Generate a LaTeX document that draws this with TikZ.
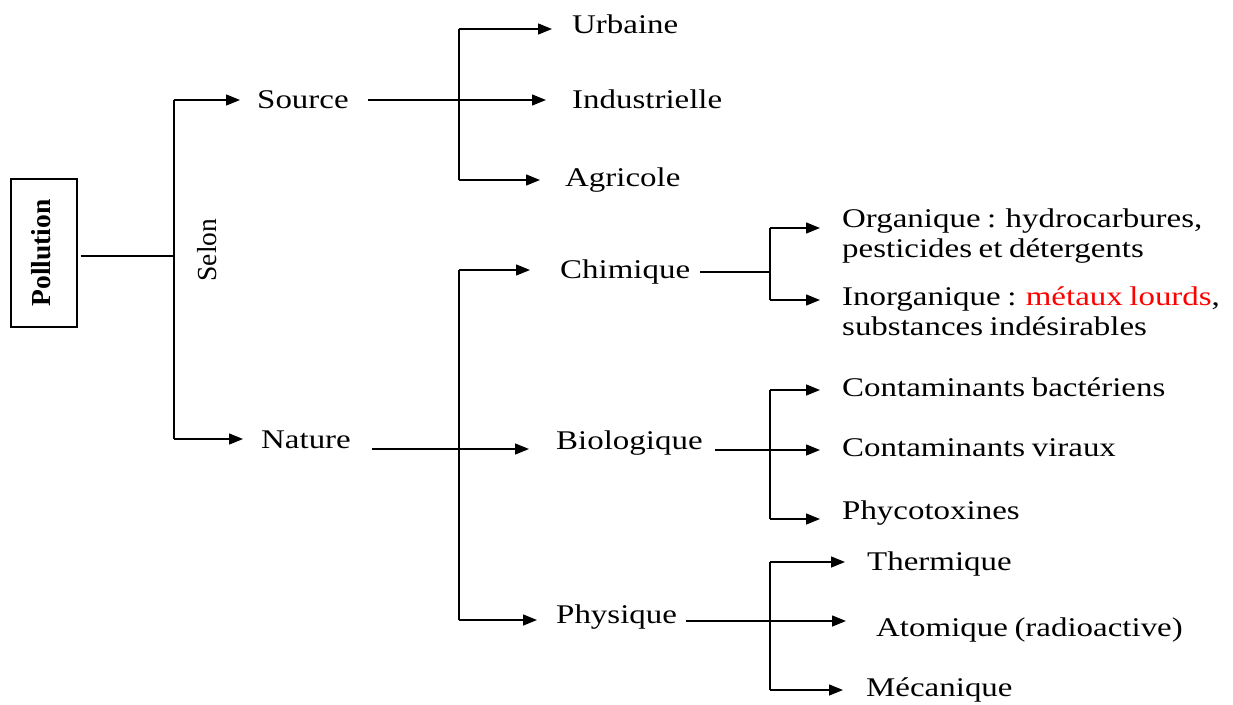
\documentclass[tikz,border=0pt]{standalone}
\usepackage{fontspec}
\setmainfont{Liberation Serif}[FakeStretch=1.22,WordSpace=0.8]
\newfontfamily\rotfont{Liberation Serif}
\usetikzlibrary{arrows.meta}
\begin{document}
\begin{tikzpicture}[x=1pt,y=-1pt,
  ln/.style={line width=1.4pt,black},
  arr/.style={ln,-{Triangle[length=14pt,width=11pt]}},
  lbl/.style={anchor=west,inner sep=0pt,text height=17.5pt,text depth=0pt,font=\fontsize{27}{30.5}\selectfont},
  rot/.style={inner sep=0pt,rotate=90,font=\rotfont\fontsize{27.5}{30}\selectfont}]
\useasboundingbox (0,0) rectangle (1233,704);
% root
\node[draw,line width=1.3pt,minimum width=66pt,minimum height=148pt,inner sep=0pt] (pol) at (44,253) {};
\node[rot,font=\rotfont\bfseries\fontsize{27.5}{30}\selectfont] (poltxt) at (41,253) {Pollution};
\node[rot] (selon) at (207,250) {Selon};
% level 1
\node[lbl] (src) at (257,100) {Source};
\node[lbl] (nat) at (261,440) {Nature};
% level 2
\node[lbl] (urb) at (572,25) {Urbaine};
\node[lbl] (ind) at (572,100) {Industrielle};
\node[lbl] (agr) at (565,178) {Agricole};
\node[lbl] (chi) at (560,270) {Chimique};
\node[lbl] (bio) at (556,441) {Biologique};
\node[lbl] (phy) at (556,615) {Physique};
% level 3
\node[lbl,align=left] (org) at (842,249) {Organique : hydrocarbures,\\pesticides et détergents};
\node[lbl,align=left] (ino) at (842,327) {Inorganique : \textcolor{red}{métaux lourds},\\substances indésirables};
\node[lbl] (bac) at (842,388) {Contaminants bactériens};
\node[lbl] (vir) at (842,448) {Contaminants viraux};
\node[lbl] (phc) at (842,511) {Phycotoxines};
\node[lbl] (the) at (867,562) {Thermique};
\node[lbl] (ato) at (876,628) {Atomique (radioactive)};
\node[lbl] (mec) at (866,688) {Mécanique};
% junctions
\coordinate (jm) at (174,256);
\coordinate (jt) at (174,100);
\coordinate (jb) at (174,439);
\coordinate (st) at (459,29);
\coordinate (sb) at (459,180);
\coordinate (nt) at (459,270);
\coordinate (nb) at (459,620);
\coordinate (nbio) at (459,449);
\coordinate (cm) at (770,272);
\coordinate (ct) at (770,228);
\coordinate (cb) at (770,300);
\coordinate (bm) at (770,450);
\coordinate (bt) at (770,390);
\coordinate (bb) at (770,519);
\coordinate (pm) at (770,621);
\coordinate (pt) at (770,562);
\coordinate (pb) at (770,690);
% connectors
\draw[ln,shorten <=3pt] (pol.east |- jm) -- (jm);
\draw[ln] (jt) -- (jb);
\draw[arr,shorten >=17pt] (jt) -- (src.west |- jt);
\draw[arr,shorten >=18pt] (jb) -- (nat.west |- jb);
\draw[ln] (st) -- (sb);
\draw[arr,shorten >=20pt] (st) -- (urb.west |- st);
\draw[arr,shorten <=19pt,shorten >=26pt] (src.east) -- (ind.west);
\draw[arr,shorten >=25pt] (sb) -- (agr.west |- sb);
\draw[ln] (nt) -- (nb);
\draw[arr,shorten >=30pt] (nt) -- (chi.west |- nt);
\draw[arr,shorten <=21pt,shorten >=27pt] (nat.east |- nbio) -- (bio.west |- nbio);
\draw[arr,shorten >=19pt] (nb) -- (phy.west |- nb);
\draw[ln,shorten <=10pt] (chi.east |- cm) -- (cm);
\draw[ln] (ct) -- (cb);
\draw[arr,shorten >=22pt] (ct) -- (org.west |- ct);
\draw[arr,shorten >=22pt] (cb) -- (ino.west |- cb);
\draw[arr,shorten <=12pt,shorten >=22pt] (bio.east |- bm) -- (vir.west |- bm);
\draw[ln] (bt) -- (bb);
\draw[arr,shorten >=22pt] (bt) -- (bac.west |- bt);
\draw[arr,shorten >=22pt] (bb) -- (phc.west |- bb);
\draw[arr,shorten <=9pt,shorten >=30pt] (phy.east |- pm) -- (ato.west |- pm);
\draw[ln] (pt) -- (pb);
\draw[arr,shorten >=22pt] (pt) -- (the.west |- pt);
\draw[arr,shorten >=23pt] (pb) -- (mec.west |- pb);
\end{tikzpicture}
\end{document}
